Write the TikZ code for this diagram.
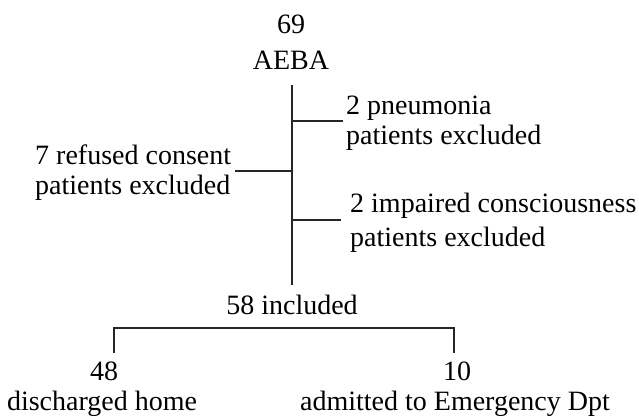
\documentclass[tikz,border=0pt]{standalone}
\usepackage{fontspec}
\setmainfont{Liberation Serif}
\begin{document}
\begin{tikzpicture}[x=1pt,y=1pt,
  lbl/.style={inner sep=0pt, font=\fontsize{28}{30}\selectfont},
  ln/.style={line width=1.3pt, draw=black!85}]
\useasboundingbox (0,0) rectangle (639,419);
% texts (base anchor = baseline of the last line)
\node[lbl, align=center, anchor=base] (aeba) at (291,349) {69\\[6pt]AEBA};
\node[lbl, align=left, anchor=base west] (pneu) at (346,274) {2 pneumonia\\patients excluded};
\node[lbl, align=left, anchor=base west] (refu) at (35,224) {7 refused consent\\patients excluded};
\node[lbl, align=left, anchor=base west] (impa) at (350,172) {2 impaired consciousness\\[4pt]patients excluded};
\node[lbl, anchor=base] (incl) at (292,104) {58 included};
\node[lbl, anchor=base] (n48) at (104,38) {48};
\node[lbl, anchor=base] (home) at (102,8) {discharged home};
\node[lbl, anchor=base] (n10) at (457,38) {10};
\node[lbl, anchor=base] (adm) at (455,8) {admitted to Emergency Dpt};
% trunk
\coordinate (ttop) at (292,334);
\coordinate (tbot) at (292,134);
\draw[ln] (ttop) -- (tbot);
% branches
\coordinate (bp) at (292,298);
\coordinate (br) at (292,248);
\coordinate (bi) at (292,199);
\draw[ln] (bp) -- ([xshift=-3pt]bp -| pneu.west);
\draw[ln] (br) -- ([xshift=4pt]br -| refu.east);
\draw[ln] (bi) -- ([xshift=-9pt]bi -| impa.west);
% split
\coordinate (sl) at (114,91);
\coordinate (sr) at (454,91);
\coordinate (dl) at (114,66);
\coordinate (dr) at (454,66);
\draw[ln] (dl) -- (sl) -- (sr) -- (dr);
\end{tikzpicture}
\end{document}
